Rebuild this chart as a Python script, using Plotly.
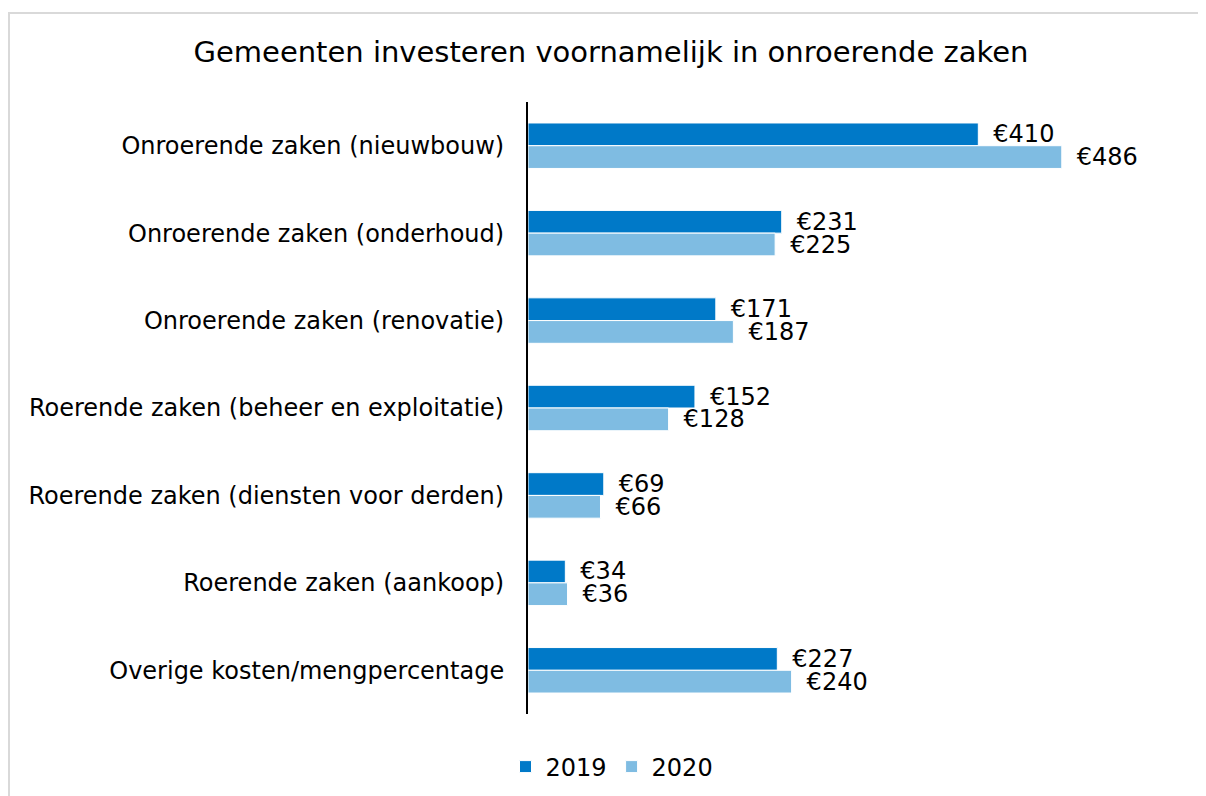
import plotly.graph_objects as go

categories = [
    "Onroerende zaken (nieuwbouw)",
    "Onroerende zaken (onderhoud)",
    "Onroerende zaken (renovatie)",
    "Roerende zaken (beheer en exploitatie)",
    "Roerende zaken (diensten voor derden)",
    "Roerende zaken (aankoop)",
    "Overige kosten/mengpercentage",
]
values_2019 = [410, 231, 171, 152, 69, 34, 227]
values_2020 = [486, 225, 187, 128, 66, 36, 240]
series_names = ["2019", "2020"]
colors = ["#0079C8", "#7FBCE2"]

FONT = "DejaVu Sans"

fig = go.Figure()
for name, vals, col in zip(series_names, [values_2019, values_2020], colors):
    fig.add_trace(go.Bar(
        y=categories, x=vals, name=name, orientation="h",
        marker=dict(color=col, line=dict(color="white", width=1)),
        text=vals, texttemplate="\u2002€%{x}", textposition="outside",
        textfont=dict(family=FONT, size=24, color="#000000"),
        constraintext="none",
        cliponaxis=False,
    ))

# page has an 8px body margin, so figure coordinates are page coordinates - 8
W, H = 1198, 788
ml, mr, mt, mb = 520, 19, 94, 82
pw, ph = W - ml - mr, H - mt - mb

fig.update_layout(
    width=W, height=H,
    margin=dict(l=ml, r=mr, t=mt, b=mb),
    paper_bgcolor="white", plot_bgcolor="white",
    barmode="group", bargap=0.48, bargroupgap=0,
    font=dict(family=FONT, size=24, color="#000000"),
    title=dict(text="Gemeenten investeren voornamelijk in onroerende zaken",
               x=603 / W, xanchor="center", y=1 - 44 / H, yanchor="middle",
               font=dict(family=FONT, size=29, color="#000000")),
    xaxis=dict(range=[0, 600], showticklabels=False, showgrid=False,
               zeroline=False, showline=False),
    yaxis=dict(autorange="reversed", showline=True, linecolor="#000000",
               linewidth=2, ticks="", showgrid=False,
               ticklabelstandoff=17,
               tickfont=dict(family=FONT, size=24, color="#000000")),
    legend=dict(orientation="h", xref="container", yref="container",
                x=604 / W, xanchor="center", y=(H - 759) / H, yanchor="middle",
                font=dict(family=FONT, size=24, color="#000000"),
                itemwidth=30, traceorder="normal"),
    showlegend=True,
    shapes=[dict(type="rect", xref="paper", yref="paper",
                 x0=(1 - ml) / pw, x1=(W + 20 - ml) / pw,
                 y0=-(H + 20 - mt - ph) / ph, y1=(H - mb - 5) / ph,
                 line=dict(color="#D9D9D9", width=2), layer="below")],
)

fig.write_html("out.html")
